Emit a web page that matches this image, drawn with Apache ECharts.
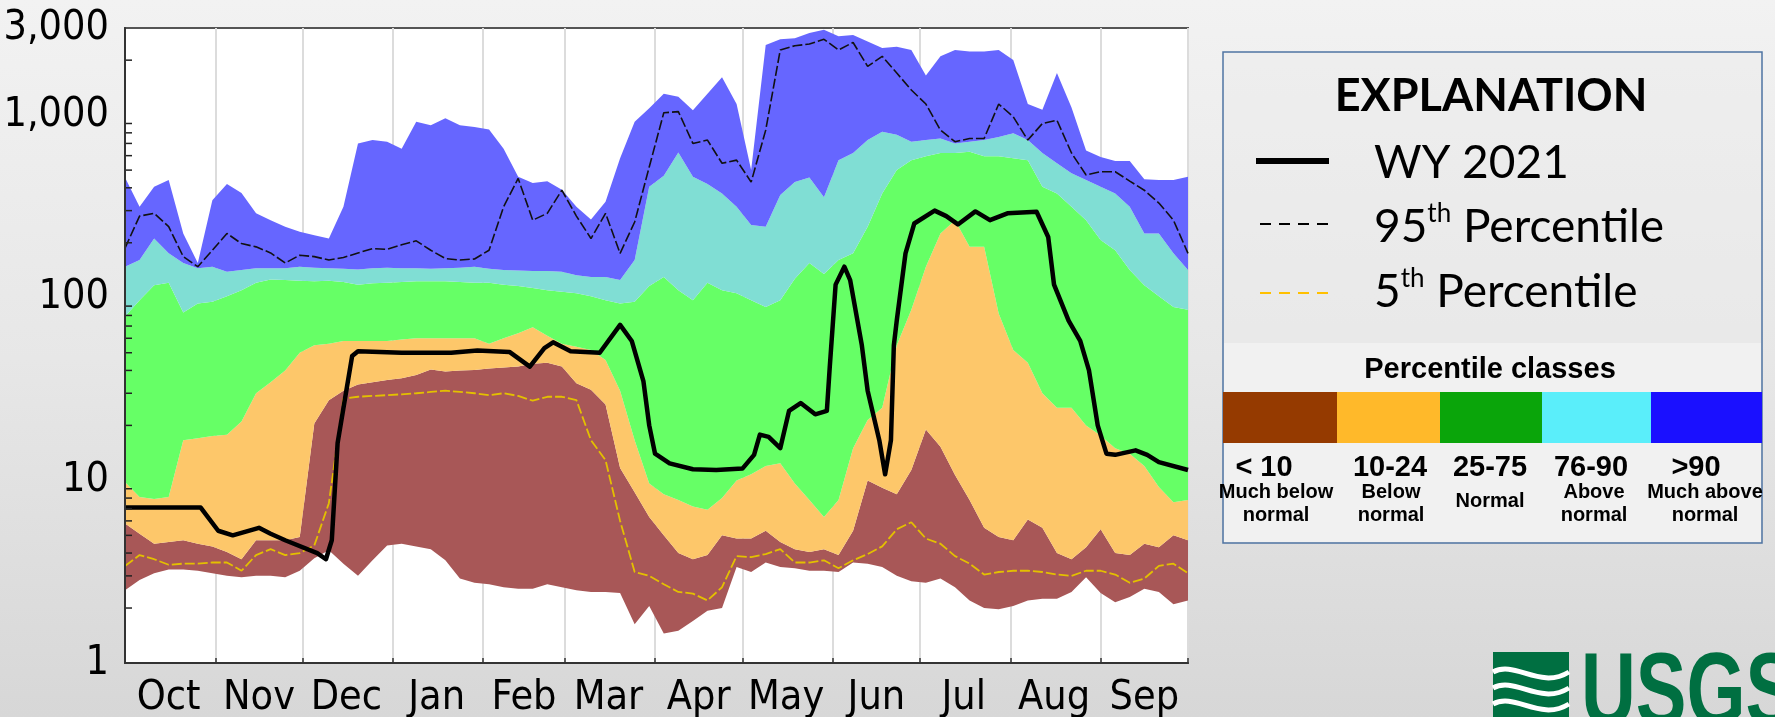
<!DOCTYPE html>
<html>
<head>
<meta charset="utf-8">
<title>WY 2021 streamflow percentiles</title>
<script src="https://cdn.jsdelivr.net/npm/echarts@6/dist/echarts.min.js"></script>
<style>
  html, body { margin: 0; padding: 0; }
  body {
    width: 1775px; height: 717px; overflow: hidden;
    background: linear-gradient(180deg, #f2f2f2 0%, #e7e7e7 50%, #d7d7d7 100%);
  }
  #main { width: 1775px; height: 717px; }
</style>
</head>
<body>
<div id="main"></div>
<script>
// day of the water year, 0 = Oct 1 2020
const days = [0, 5, 10, 15, 20, 25, 30, 35, 40, 45, 50, 55, 60, 65, 70, 75, 80, 85, 90, 95, 100, 105, 110, 115, 120,
  125, 130, 135, 140, 145, 150, 155, 160, 165, 170, 175, 180, 185, 190, 195, 200, 205, 210, 215, 220, 225, 230, 235, 240,
  245, 250, 255, 260, 265, 270, 275, 280, 285, 290, 295, 300, 305, 310, 315, 320, 325, 330, 335, 340, 345, 350, 355, 360, 365]

// daily discharge percentiles, ft3/s
const minFlow = [2.5, 2.85, 3.1, 3.25, 3.25, 3.2, 3.1, 3.0, 2.95, 3.0, 3.0, 2.95, 3.2, 3.75, 4.15, 3.5, 3.0, 3.65, 4.4, 4.5, 4.35, 4.2, 3.65, 2.9, 2.75,
  2.7, 2.6, 2.55, 2.55, 2.7, 2.6, 2.5, 2.45, 2.45, 2.42, 1.63, 2.05, 1.45, 1.5, 1.7, 1.93, 2.0, 3.35, 3.15, 3.55, 3.35, 3.3, 3.2, 3.2,
  3.15, 3.55, 3.5, 3.35, 3.0, 2.8, 2.75, 2.9, 2.6, 2.2, 2.0, 1.97, 2.05, 2.2, 2.25, 2.25, 2.45, 2.95, 2.42, 2.15, 2.3, 2.55, 2.45, 2.1, 2.2]
const p10 = [5.8, 5.1, 4.5, 4.6, 4.7, 4.5, 4.35, 4.05, 3.7, 4.7, 4.7, 4.7, 4.9, 20.5, 27.5, 31, 33.5, 34.5, 35.4, 36.3, 37.8, 40.5, 39.5, 40, 40.2,
  41, 41.5, 42, 43.5, 44, 42, 34, 31.4, 26, 11.7, 8.6, 6.3, 5, 4, 3.7, 3.9, 5, 4.8, 4.8, 5.3, 4.6, 4.2, 4.05, 4.2,
  3.9, 5.3, 10, 9.1, 8.4, 11.4, 19, 15.3, 10.7, 7.8, 5.5, 4.9, 4.7, 6.1, 5.5, 4, 3.7, 4.3, 5.4, 4, 3.9, 4.5, 4.3, 5, 4.7]
const p25 = [9.8, 8.1, 7.9, 8.1, 16.6, 17, 17.5, 17.8, 21, 30, 34.5, 40, 50, 55, 56, 58, 58, 58, 58, 59, 60, 60, 60, 60, 60,
  56, 60, 64, 69, 62, 56, 54, 51.7, 45.6, 31, 16.6, 9.6, 8.4, 7.8, 7.2, 6.9, 8, 10, 10.8, 12, 12.4, 9.6, 7.8, 6.3,
  7.8, 15, 21.4, 25, 55, 86, 148, 225, 266, 190, 190, 82, 51.7, 44, 30, 25, 25, 20, 17.6, 15, 14, 12, 9.2, 7.6, 7.8]
const p75 = [79, 97, 117, 121, 83, 93, 95, 102, 110, 121, 126, 125, 124, 123, 124, 122, 118, 120, 121, 122, 123, 123, 123, 122, 121,
  121, 118, 116, 113, 110, 108, 106, 102, 97, 93, 95, 116, 130, 110, 97, 121, 110, 106, 97, 89, 97, 127, 155, 135,
  161, 175, 245, 372, 500, 567, 595, 620, 620, 630, 595, 595, 580, 567, 405, 372, 315, 266, 207, 182, 142, 117, 102, 89, 86]
const p90 = [148, 161, 211, 175, 155, 145, 148, 139, 142, 145, 145, 145, 148, 146, 145, 144, 143, 145, 146, 145, 145, 144, 145, 146, 148,
  144, 142, 141, 140, 140, 139, 133, 130, 130, 125, 161, 405, 465, 625, 460, 420, 372, 315, 250, 245, 365, 430, 455, 355,
  567, 620, 730, 810, 780, 715, 730, 745, 700, 715, 730, 760, 795, 730, 620, 545, 480, 441, 405, 372, 315, 225, 225, 175, 142]
const maxFlow = [455, 315, 405, 441, 225, 155, 342, 420, 375, 290, 266, 245, 230, 220, 211, 315, 700, 730, 715, 655, 920, 880, 960, 880, 860,
  835, 655, 460, 425, 435, 390, 315, 268, 335, 580, 920, 1090, 1310, 1260, 1065, 1310, 1610, 1150, 500, 2420, 2600, 2640, 2820, 2930,
  2700, 2750, 2530, 2330, 2370, 2276, 1650, 2100, 2276, 2230, 2230, 2276, 2005, 1150, 1070, 1700, 1100, 640, 590, 560, 560, 445, 441, 441, 460]
const p95 = [187, 280, 290, 245, 168, 148, 182, 225, 198, 190, 176, 155, 171, 168, 161, 166, 176, 186, 184, 195, 205, 182, 164, 161, 163,
  182, 315, 450, 266, 290, 388, 280, 211, 290, 175, 260, 520, 1030, 1045, 700, 730, 545, 567, 430, 828, 2276, 2400, 2450, 2600,
  2276, 2500, 1850, 2100, 1700, 1373, 1150, 828, 715, 745, 745, 1150, 980, 730, 900, 938, 620, 470, 490, 490, 435, 388, 330, 266, 175]
const p05 = [3.4, 3.9, 3.7, 3.45, 3.5, 3.5, 3.55, 3.55, 3.2, 3.9, 4.2, 3.9, 4.0, 4.4, 7.5, 28, 28.7, 29, 29.3, 29.6, 30, 30.5, 31, 30.5, 30,
  29.3, 30, 29, 27.3, 28.7, 28.7, 27.5, 16.6, 12.9, 6, 3.15, 3.0, 2.7, 2.45, 2.4, 2.2, 2.6, 3.85, 3.8, 3.95, 4.2, 3.55, 3.55, 3.65,
  3.3, 3.65, 3.95, 4.35, 5.4, 5.9, 4.8, 4.5, 3.85, 3.5, 3.05, 3.15, 3.2, 3.2, 3.15, 3.05, 3.0, 3.2, 3.2, 3.05, 2.75, 2.9, 3.4, 3.5, 3.1]

// observed water year 2021
const wyDays = [0, 26, 32, 37, 46, 50, 55, 66, 69, 71, 73, 76, 78, 80, 95, 112, 121, 132, 139, 144,
  147, 153, 163, 170, 174, 178, 180, 182, 187, 195, 203, 212, 216, 218, 221, 225, 228, 232, 237, 241,
  242, 244, 247, 249, 253, 255, 259, 261, 263, 264, 265, 268, 271, 278, 282, 286, 292, 297, 303, 313,
  317, 319, 324, 328, 331, 334, 337, 340, 347, 351, 355, 365]
const wy2021 = [7.1, 7.1, 5.3, 5.0, 5.5, 5.1, 4.7, 4.0, 3.7, 4.7, 16, 31, 48, 51, 50, 50, 51.5, 50.5, 42, 53,
  57, 51, 50, 71, 58, 35, 20, 14, 12.4, 11.5, 11.4, 11.6, 13.8, 17.8, 17.3, 15, 24, 26.5, 23, 24,
  42, 118, 148, 125, 55, 31, 16.6, 10.8, 16.6, 55, 75, 175, 255, 300, 280, 252, 297, 266, 290, 296,
  215, 118, 75, 58, 40, 20, 14, 13.8, 14.6, 13.8, 12.6, 11.4]

const months = ['Oct', 'Nov', 'Dec', 'Jan', 'Feb', 'Mar', 'Apr', 'May', 'Jun', 'Jul', 'Aug', 'Sep']
const monthStarts = [0, 31, 61, 92, 123, 151, 182, 212, 243, 273, 304, 335, 365]
const monthMids = [15, 46, 76, 107, 137, 166, 197, 227, 258, 288, 319, 350]
const minorTicks = [2, 3, 4, 5, 6, 7, 8, 9, 20, 30, 40, 50, 60, 70, 80, 90, 200, 300, 400, 500, 600, 700, 800, 900, 2000]

const classNames = ['< 10', '10-24', '25-75', '76-90', '>90']
const classNotes = ['Much below\nnormal', 'Below\nnormal', 'Normal', 'Above\nnormal', 'Much above\nnormal']
const classColors = ['#953a00', '#ffb92a', '#0aa50a', '#5aeefa', '#1a10ff']

// one category per calendar day, Oct 1 2020 .. Oct 1 2021
const dayLabels = []
for (let d = 0; d <= 365; d++) {
  dayLabels.push(new Date(Date.UTC(2020, 9, 1 + d)).toISOString().slice(0, 10))
}

// pick a condensed face for the axis text if one is installed
function hasFont (name) {
  const ctx = document.createElement('canvas').getContext('2d')
  ctx.font = '40px monospace'
  const a = ctx.measureText('3,000 Oct Nov').width
  ctx.font = `40px "${name}", monospace`
  return ctx.measureText('3,000 Oct Nov').width !== a
}
const narrowReal = ['Liberation Sans Narrow', 'Arial Narrow'].find(hasFont)
const axisFont = narrowReal || (hasFont('DejaVu Sans Condensed') ? 'DejaVu Sans Condensed' : 'Liberation Sans')
const axisSize = narrowReal ? 45 : 41
const legendFont = 'Lato, "Open Sans", sans-serif'
const classFont = '"Liberation Sans", Arial, sans-serif'

const pairs = (xs, ys) => xs.map((x, i) => [x, ys[i]])

// bands are stacked differences on the log axis so each fills between two percentiles
const bands = [
  { lo: minFlow, hi: p10, color: '#a85757' },
  { lo: p10, hi: p25, color: '#fdc76a' },
  { lo: p25, hi: p75, color: '#66ff66' },
  { lo: p75, hi: p90, color: '#80ded4' },
  { lo: p90, hi: maxFlow, color: '#6666ff' }
]

const bandSeries = [{
  type: 'line', stack: 'pct', data: pairs(days, minFlow),
  showSymbol: false, lineStyle: { width: 0, opacity: 0 }, silent: true
}].concat(bands.map(b => ({
  type: 'line', stack: 'pct',
  data: days.map((d, i) => [d, Math.max(0, b.hi[i] - b.lo[i])]),
  showSymbol: false, silent: true,
  lineStyle: { width: 0, opacity: 0 },
  areaStyle: { color: b.color, opacity: 1 }
})))

const lineSeries = [
  {
    type: 'line', data: pairs(days, p95), showSymbol: false, silent: true, z: 4,
    lineStyle: { color: '#111', width: 1.6, type: [10, 3] }
  },
  {
    type: 'line', data: pairs(days, p05), showSymbol: false, silent: true, z: 4,
    lineStyle: { color: '#e3c000', width: 1.8, type: [10, 3] }
  },
  {
    type: 'line', data: pairs(wyDays, wy2021), showSymbol: false, silent: true, z: 5,
    lineStyle: { color: '#000', width: 4.5, join: 'round' }
  },
  {
    // minor ticks of the log axis
    type: 'custom', silent: true, z: 6, clip: false,
    data: minorTicks.map(v => [0, v]),
    renderItem: (params, api) => {
      const p = api.coord([api.value(0), api.value(1)])
      return {
        type: 'line',
        shape: { x1: p[0], y1: p[1], x2: p[0] + 7, y2: p[1] },
        style: { stroke: '#222', lineWidth: 1.5 }
      }
    }
  }
]

const legendGraphics = [
  {
    type: 'rect', shape: { x: 1223, y: 52, width: 539, height: 491 },
    style: { fill: 'rgba(236,236,236,0.45)', stroke: '#4f74a3', lineWidth: 1.5 }
  },
  { type: 'rect', shape: { x: 1224, y: 343, width: 537, height: 199 }, style: { fill: '#f1f1f1' } },
  {
    type: 'text', x: 1491, y: 96,
    style: { text: 'EXPLANATION', font: `bold 45px ${legendFont}`, fill: '#000', align: 'center', verticalAlign: 'middle' }
  },
  { type: 'line', shape: { x1: 1256, y1: 161, x2: 1329, y2: 161 }, style: { stroke: '#000', lineWidth: 6 } },
  {
    type: 'text', x: 1374, y: 163,
    style: { text: 'WY 2021', font: `46px ${legendFont}`, fill: '#000', verticalAlign: 'middle' }
  },
  { type: 'line', shape: { x1: 1260, y1: 224, x2: 1330, y2: 224 }, style: { stroke: '#000', lineWidth: 2, lineDash: [11, 8] } },
  {
    type: 'text', x: 1374, y: 227,
    style: {
      text: '{a|95}{b|th}{a| Percentile}', verticalAlign: 'middle', fill: '#000',
      rich: {
        a: { fontSize: 46, fontFamily: legendFont, lineHeight: 52 },
        b: { fontSize: 26, fontFamily: legendFont, lineHeight: 26, verticalAlign: 'top' }
      }
    }
  },
  { type: 'line', shape: { x1: 1260, y1: 293, x2: 1330, y2: 293 }, style: { stroke: '#ffc000', lineWidth: 2, lineDash: [11, 8] } },
  {
    type: 'text', x: 1374, y: 292,
    style: {
      text: '{a|5}{b|th}{a| Percentile}', verticalAlign: 'middle', fill: '#000',
      rich: {
        a: { fontSize: 46, fontFamily: legendFont, lineHeight: 52 },
        b: { fontSize: 26, fontFamily: legendFont, lineHeight: 26, verticalAlign: 'top' }
      }
    }
  },
  {
    type: 'text', x: 1490, y: 370,
    style: { text: 'Percentile classes', font: `bold 29px ${classFont}`, fill: '#000', align: 'center', verticalAlign: 'middle' }
  }
]

const classEdges = [1223, 1337, 1440, 1542, 1651, 1762]
const labelCenters = [1264, 1390, 1490, 1591, 1696]
const noteCenters = [1276, 1391, 1490, 1594, 1705]
classColors.forEach((c, i) => {
  legendGraphics.push({
    type: 'rect',
    shape: { x: classEdges[i], y: 392, width: classEdges[i + 1] - classEdges[i], height: 51 },
    style: { fill: c }
  })
  legendGraphics.push({
    type: 'text', x: labelCenters[i], y: 468,
    style: { text: classNames[i], font: `bold 29px ${classFont}`, fill: '#000', align: 'center', verticalAlign: 'middle' }
  })
  legendGraphics.push({
    type: 'text', x: noteCenters[i], y: classNotes[i].includes('\n') ? 504 : 501,
    style: {
      text: classNotes[i], font: `bold 20px ${classFont}`, lineHeight: 23,
      fill: '#000', align: 'center', verticalAlign: 'middle'
    }
  })
})

// USGS mark, bottom right
legendGraphics.push(
  { type: 'rect', shape: { x: 1493, y: 652, width: 76, height: 70 }, style: { fill: '#006f41' } },
  {
    type: 'bezierCurve',
    shape: { x1: 1493, y1: 672, cpx1: 1515, cpy1: 660, cpx2: 1540, cpy2: 690, x2: 1569, y2: 672 },
    style: { stroke: '#fff', lineWidth: 5, fill: null }
  },
  {
    type: 'bezierCurve',
    shape: { x1: 1493, y1: 688, cpx1: 1515, cpy1: 676, cpx2: 1540, cpy2: 706, x2: 1569, y2: 688 },
    style: { stroke: '#fff', lineWidth: 5, fill: null }
  },
  {
    type: 'bezierCurve',
    shape: { x1: 1493, y1: 704, cpx1: 1515, cpy1: 692, cpx2: 1540, cpy2: 722, x2: 1569, y2: 704 },
    style: { stroke: '#fff', lineWidth: 5, fill: null }
  },
  {
    type: 'text', x: 1581, y: 696, scaleX: 0.73,
    style: { text: 'USGS', font: `bold 104px ${classFont}`, fill: '#006f41', verticalAlign: 'middle' }
  }
)

const isStart = i => monthStarts.indexOf(i) >= 0

const chart = echarts.init(document.getElementById('main'), null, { renderer: 'canvas' })
chart.setOption({
  animation: false,
  backgroundColor: 'transparent',
  grid: {
    left: 125, right: 587, top: 28, bottom: 54,
    show: true, backgroundColor: '#fff', borderColor: '#555', borderWidth: 2,
    outerBoundsMode: 'none'
  },
  xAxis: {
    type: 'category', data: dayLabels, boundaryGap: false,
    axisLine: { lineStyle: { color: '#333', width: 2 } },
    axisTick: { inside: true, length: 5, interval: isStart, lineStyle: { color: '#333', width: 1.5 } },
    splitLine: { show: true, interval: isStart, lineStyle: { color: '#dcdcdc', width: 2 } },
    axisLabel: {
      interval: i => monthMids.indexOf(i) >= 0,
      formatter: (v, i) => months[monthMids.indexOf(i)] || '',
      color: '#000', fontFamily: axisFont, fontSize: axisSize, margin: 15
    }
  },
  yAxis: {
    type: 'log', logBase: 10, min: 1, max: 3000, z: 6,
    axisLine: { show: true, lineStyle: { color: '#333', width: 2 } },
    axisTick: { inside: true, length: 7, lineStyle: { color: '#222', width: 1.5 } },
    splitLine: { show: false },
    axisLabel: {
      formatter: v => Math.round(v).toLocaleString('en-US'),
      color: '#000', fontFamily: axisFont, fontSize: axisSize, margin: 16
    }
  },
  series: bandSeries.concat(lineSeries),
  graphic: legendGraphics
})
</script>
</body>
</html>
